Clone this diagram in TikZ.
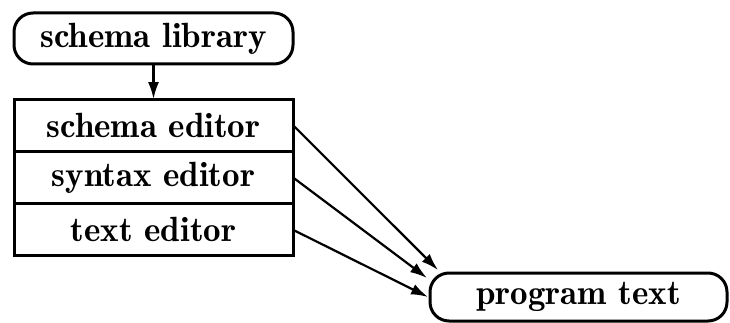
\documentclass[tikz,border=0pt]{standalone}
\usepackage{fontspec}
\usetikzlibrary{arrows.meta,calc}
\newfontfamily\labelfont{lmromandemi10-regular.otf}
\begin{document}
\begin{tikzpicture}[x=1pt,y=-1pt,
  label/.style={font=\labelfont\fontsize{35}{40}\selectfont, inner sep=0pt, outer sep=0pt},
  pill/.style={label, draw, line width=3pt, rounded corners=19pt},
  row/.style={label, draw, line width=3pt, minimum width=279pt, minimum height=52.3pt},
  conn/.style={line width=2.2pt, -{Latex[length=17pt,width=11pt]}}]
\useasboundingbox (0,0) rectangle (730,323);
% library at the top
\node[pill, minimum width=279pt, minimum height=51pt] (lib) at (153.5,38.5) {schema library};
% stack of editors
\node[row] (se) at (153.5,125.2) {schema editor};
\node[row, anchor=north] (sy) at (se.south) {syntax editor};
\node[row, anchor=north] (te) at (sy.south) {text editor};
% output
\node[pill, minimum width=297pt, minimum height=48pt] (prog) at (578.5,297) {program text};
% connectors
\draw[conn] (lib.south) -- (se.north);
\coordinate (p1) at ($(prog.north west)+(8,-3)$);
\coordinate (p2) at ($(prog.north west)+(-3,5)$);
\coordinate (p3) at ($(prog.north west)+(-2,24)$);
\draw[conn] (se.east) -- (p1);
\draw[conn] (sy.east) -- (p2);
\draw[conn] (te.east) -- (p3);
\end{tikzpicture}
\end{document}
